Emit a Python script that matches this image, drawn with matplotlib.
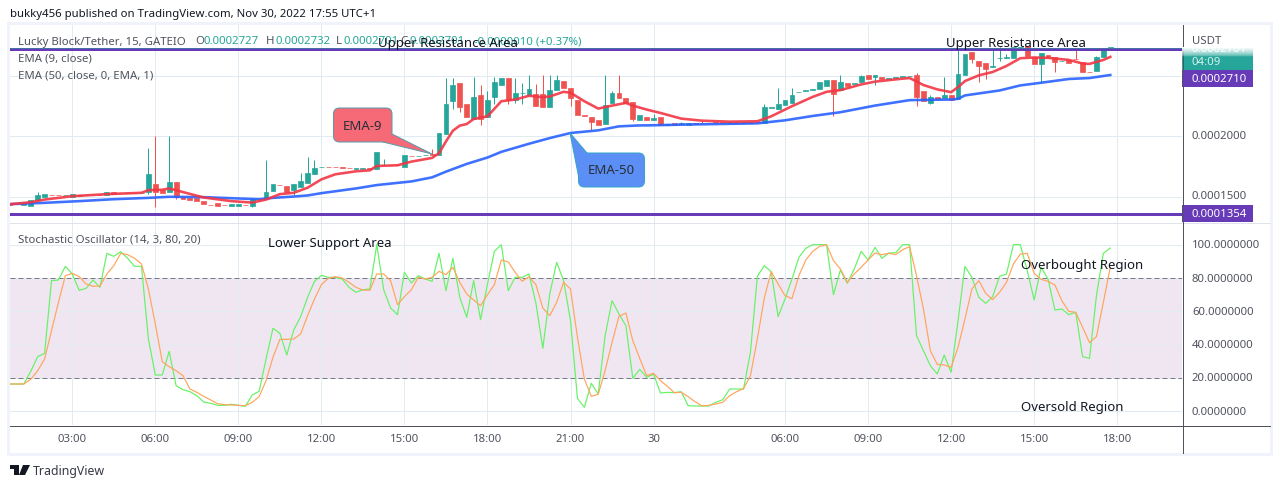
import numpy as np
import matplotlib
matplotlib.use("Agg")
import matplotlib.pyplot as plt
from matplotlib.patches import FancyBboxPatch, Polygon, Rectangle

# prices are in units of 1e-7 USDT, x is the bar number (15 min bars, session gap after "30")
opens = [1442, 1441, 1436, 1425, 1472, 1500, 1518, 1516, 1512, 1500,
         1513, 1512, 1512, 1518, 1514, 1536, 1535, 1535, 1535, 1531,
         1536, 1605, 1555, 1541, 1619, 1500, 1491, 1491, 1469, 1435,
         1447, 1432, 1427, 1427, 1432, 1427, 1479, 1486, 1550, 1599,
         1591, 1555, 1583, 1616, 1689, 1746, 1750, 1748, 1746, 1741,
         1731, 1731, 1735, 1733, 1759, 1763, 1763, 1750, 1841, 1837,
         1842, 1852, 1850, 2022, 2291, 2439, 2272, 2144, 2339, 2158,
         2327, 2425, 2486, 2305, 2359, 2344, 2347, 2347, 2241, 2380,
         2458, 2397, 2302, 2174, 2161, 2136, 2100, 2277, 2355, 2319,
         2286, 2133, 2164, 2139, 2164, 2098, 2114, 2103, 2097, 2110,
         2113, 2109, 2116, 2116, 2112, 2116, 2112, 2116, 2119, 2114,
         2239, 2227, 2261, 2280, 2364, 2379, 2387, 2389, 2416, 2464,
         2383, 2444, 2437, 2447, 2505, 2491, 2494, 2472, 2484, 2489,
         2498, 2505, 2372, 2277, 2322, 2314, 2339, 2311, 2505, 2697,
         2628, 2605, 2575, 2648, 2651, 2650, 2733, 2747, 2661, 2597,
         2672, 2653, 2620, 2636, 2641, 2619, 2535, 2539, 2655, 2734]
closes = [1436, 1437, 1442, 1472, 1514, 1522, 1514, 1512, 1516, 1519,
          1509, 1516, 1516, 1514, 1536, 1525, 1531, 1531, 1531, 1535,
          1689, 1536, 1533, 1619, 1500, 1483, 1475, 1461, 1439, 1431,
          1427, 1428, 1439, 1439, 1428, 1480, 1483, 1536, 1605, 1595,
          1536, 1605, 1627, 1694, 1739, 1750, 1746, 1744, 1742, 1737,
          1735, 1735, 1731, 1872, 1763, 1759, 1759, 1847, 1837, 1841,
          1846, 1848, 2030, 2272, 2425, 2244, 2158, 2327, 2144, 2305,
          2453, 2486, 2305, 2361, 2363, 2389, 2255, 2241, 2380, 2464,
          2397, 2314, 2180, 2170, 2122, 2097, 2261, 2355, 2314, 2277,
          2144, 2175, 2139, 2153, 2097, 2102, 2097, 2107, 2114, 2106,
          2109, 2113, 2112, 2112, 2116, 2112, 2116, 2112, 2115, 2244,
          2243, 2272, 2305, 2339, 2368, 2383, 2391, 2453, 2464, 2352,
          2447, 2416, 2441, 2497, 2475, 2505, 2472, 2486, 2488, 2503,
          2502, 2322, 2291, 2322, 2308, 2339, 2305, 2514, 2680, 2639,
          2583, 2561, 2586, 2652, 2655, 2739, 2737, 2666, 2600, 2689,
          2653, 2616, 2624, 2608, 2637, 2533, 2531, 2655, 2733, 2738]
wick_bars = [4, 20, 21, 23, 24, 35, 37, 41, 42, 43, 44, 54, 61, 63, 64, 65, 67, 68, 69, 70,
             72, 73, 74, 75, 76, 77, 78, 79, 81, 84, 86, 87, 88, 90, 93, 97, 100, 109, 111,
             113, 119, 120, 123, 125, 128, 131, 133, 135, 137, 139, 140, 141, 142, 143, 144,
             149, 151, 154, 157]
wick_highs = [1536, 1902, 2000, 2005, 1619, 1480, 1805, 1605, 1694, 1833, 1805, 1816, 1894, 2480, 2486, 2439, 2489, 2422, 2375, 2494,
              2486, 2486, 2444, 2505, 2430, 2505, 2505, 2505, 2397, 2161, 2505, 2375, 2505, 2286, 2189, 2122, 2130, 2272, 2397,
              2397, 2464, 2505, 2505, 2505, 2494, 2522, 2344, 2489, 2722, 2697, 2628, 2605, 2722, 2736, 2680,
              2689, 2653, 2716, 2664]
wick_lows = [1472, 1527, 1416, 1541, 1483, 1416, 1486, 1514, 1583, 1616, 1689, 1759, 1848, 2022, 2230, 2203, 2144, 2097, 2158, 2264,
             2264, 2277, 2269, 2344, 2255, 2241, 2241, 2380, 2255, 2055, 2100, 2277, 2314, 2125, 2139, 2103, 2109, 2114, 2227,
             2280, 2172, 2383, 2447, 2425, 2484, 2250, 2266, 2314, 2311, 2605, 2450, 2478, 2575, 2625, 2651,
             2444, 2536, 2637, 2539]

ema9_bars = [0, 3, 5, 9, 14, 19, 20, 22, 23, 25, 28, 32, 35, 37, 39, 41, 43, 45, 47, 50,
             52, 53, 56, 58, 61, 62, 63, 64, 65, 66, 67, 69, 71, 73, 75, 77, 78, 80, 81, 83,
             85, 87, 89, 90, 92, 94, 97, 100, 104, 108, 110, 113, 116, 118, 120, 123, 125, 129, 130, 132,
             134, 136, 137, 138, 140, 142, 144, 146, 148, 150, 153, 155, 156, 158, 159]
ema9 = [1439, 1455, 1477, 1505, 1522, 1533, 1555, 1558, 1569, 1539, 1494, 1464, 1452, 1477, 1522, 1533, 1575, 1644, 1686, 1711,
        1719, 1755, 1761, 1791, 1822, 1861, 1958, 2047, 2089, 2102, 2144, 2166, 2291, 2305, 2336, 2325, 2330, 2369, 2361, 2291,
        2230, 2255, 2277, 2255, 2222, 2194, 2147, 2130, 2122, 2125, 2166, 2250, 2327, 2369, 2383, 2430, 2453, 2478, 2483, 2425,
        2389, 2366, 2408, 2458, 2505, 2533, 2583, 2647, 2653, 2650, 2633, 2603, 2600, 2633, 2658]
ema50_bars = [0, 5, 10, 15, 20, 23, 28, 33, 36, 38, 41, 43, 45, 50, 53, 58, 61, 63, 66, 69,
              71, 75, 78, 81, 85, 88, 91, 92, 97, 108, 112, 116, 120, 125, 130, 136, 137, 138, 143, 146,
              149, 153, 156, 159]
ema50 = [1439, 1450, 1464, 1480, 1491, 1500, 1497, 1486, 1480, 1491, 1502, 1511, 1530, 1569, 1597, 1627, 1661, 1708, 1772, 1825,
         1872, 1939, 1986, 2028, 2050, 2083, 2091, 2091, 2097, 2108, 2133, 2169, 2200, 2255, 2300, 2305, 2311, 2339, 2380, 2422,
         2444, 2475, 2483, 2508]

stoch_k = [16.4, 16.4, 16.4, 24.0, 32.8, 34.8, 78.4, 78.8, 87.0, 82.4,
           72.6, 73.8, 78.8, 74.4, 94.8, 93.0, 95.8, 91.8, 87.0, 87.0,
           43.4, 21.8, 21.8, 36.0, 15.4, 13.0, 11.8, 9.4, 5.6, 4.8,
           3.6, 3.6, 4.2, 3.6, 3.0, 9.8, 12.0, 31.4, 49.8, 46.8,
           33.8, 48.8, 56.8, 68.4, 78.0, 81.6, 80.4, 80.4, 79.4, 74.4,
           71.4, 73.0, 73.4, 100.0, 73.0, 62.0, 58.0, 83.4, 77.0, 81.4,
           79.4, 78.0, 94.8, 72.4, 91.8, 68.4, 56.4, 78.4, 55.0, 76.4,
           96.0, 100.0, 72.4, 80.4, 80.4, 82.4, 64.8, 37.8, 70.4, 89.4,
           78.4, 54.4, 7.8, 2.4, 16.8, 10.4, 45.4, 66.4, 58.4, 51.4,
           19.8, 25.2, 20.4, 22.4, 11.0, 11.4, 11.2, 11.8, 3.4, 3.2,
           3.2, 3.2, 5.4, 7.0, 13.4, 13.4, 13.4, 35.4, 81.0, 87.4,
           83.8, 56.8, 67.4, 79.4, 92.4, 97.8, 100.0, 100.0, 100.0, 70.0,
           84.8, 76.8, 85.4, 96.0, 90.8, 98.4, 91.8, 95.0, 95.2, 100.0,
           100.0, 45.4, 36.4, 27.4, 22.4, 33.8, 23.4, 54.4, 87.0, 80.4,
           68.4, 64.8, 68.8, 81.0, 82.4, 100.0, 100.0, 84.4, 66.8, 86.4,
           79.4, 60.8, 61.4, 58.0, 59.4, 32.8, 31.8, 69.4, 94.8, 98.0]
stoch_d = [16.4, 16.4, 16.4, 19.2, 24.4, 31.4, 48.4, 65.4, 81.4, 82.8,
           80.8, 76.4, 75.0, 75.2, 82.4, 87.4, 94.8, 94.0, 91.8, 88.4,
           73.4, 52.4, 29.8, 26.8, 24.4, 21.4, 13.4, 11.4, 9.0, 6.8,
           4.6, 4.0, 3.8, 3.6, 3.4, 5.4, 8.8, 18.4, 32.4, 43.2,
           43.2, 43.4, 46.4, 57.4, 67.4, 76.0, 79.8, 80.8, 80.0, 77.4,
           74.4, 72.8, 72.6, 82.4, 82.4, 78.4, 64.0, 68.8, 73.0, 80.4,
           79.4, 80.4, 84.0, 82.0, 86.4, 77.4, 70.4, 66.8, 63.4, 70.0,
           76.0, 90.8, 89.6, 83.4, 78.0, 80.8, 76.0, 62.0, 57.4, 65.4,
           77.4, 73.4, 44.4, 19.4, 9.0, 10.2, 24.4, 41.4, 57.0, 59.0,
           42.4, 31.8, 21.4, 22.8, 18.4, 15.0, 11.2, 11.4, 8.8, 5.8,
           3.2, 3.6, 4.4, 5.4, 9.4, 11.8, 13.6, 21.4, 43.4, 68.0,
           83.8, 76.4, 69.4, 67.6, 81.4, 90.8, 96.0, 99.0, 100.0, 90.4,
           85.4, 77.4, 82.4, 86.4, 90.8, 95.0, 94.0, 94.8, 94.0, 97.0,
           98.8, 81.4, 61.4, 36.4, 28.2, 27.8, 26.4, 38.4, 55.4, 73.4,
           78.4, 70.8, 67.0, 71.4, 77.4, 88.4, 94.4, 94.8, 82.8, 79.2,
           78.0, 75.8, 66.4, 60.0, 59.4, 50.4, 41.2, 44.8, 65.4, 86.4]

time_ticks = [9, 21, 33, 45, 57, 69, 81, 93, 112, 124, 136, 148, 160]
time_labels = ["03:00", "06:00", "09:00", "12:00", "15:00", "18:00", "21:00", "30",
               "06:00", "09:00", "12:00", "15:00", "18:00"]
price_grid = [1500, 2000, 2500]
price_labels = ["0.0001500", "0.0002000"]
resistance = 2722
support = 1354
osc_ticks = [100, 80, 60, 40, 20, 0]
osc_labels = ["100.0000000", "80.0000000", "60.0000000", "40.0000000", "20.0000000", "0.0000000"]

FONT = "Noto Sans"
GREY = "#50535e"
INK = "#131722"
PURPLE = "#673ab7"
UP = "#26a69a"
DOWN = "#ef5350"
GRID = "#e1ecf2"
W, H = 1280, 489
PX = 0.72  # one pixel as a line width

plt.rcParams["font.family"] = FONT
fig = plt.figure(figsize=(W / 100, H / 100), dpi=100, facecolor="white")


def pane(x0, y0, x1, y1):
    return fig.add_axes([x0 / W, 1 - y1 / H, (x1 - x0) / W, (y1 - y0) / H])


# price pane
ax = pane(10, 26, 1182, 224)
ax.set_xlim(0, 1172 / 6.92)
ax.set_ylim(1283, 2922)
for t in time_ticks:
    ax.axvline(t, color=GRID, lw=PX, zorder=0)
for p in price_grid:
    ax.axhline(p, color=GRID, lw=PX, zorder=0)

bars = np.arange(len(opens))
colors = [UP if c >= o else DOWN for o, c in zip(opens, closes)]
wick_colors = [colors[b] for b in wick_bars]
ax.vlines(wick_bars, wick_lows, wick_highs, colors=wick_colors, lw=PX, zorder=2)
ax.bar(bars, np.array(closes) - np.array(opens), bottom=opens, width=0.7,
       color=colors, edgecolor=colors, lw=0.5, zorder=3)
ax.plot(ema50_bars, ema50, color="#2962ff", lw=2.6 * PX, alpha=0.9, zorder=4)
ax.plot(ema9_bars, ema9, color="#f23645", lw=2.6 * PX, alpha=0.9, zorder=5)
ax.axhline(resistance, color=PURPLE, lw=3 * PX, zorder=6)
ax.axhline(resistance + 13, color=UP, lw=PX, ls=(0, (1, 1)), zorder=7)
ax.axhline(support, color=PURPLE, lw=3 * PX, zorder=6)

# stochastic pane
ax2 = pane(10, 225, 1182, 426)
ax2.set_xlim(0, 1172 / 6.92)
ax2.set_ylim(-8.2, 112.4)
ax2.axhspan(20, 80, color="#f0e6f2", lw=0, zorder=0)
for t in time_ticks:
    ax2.axvline(t, color=GRID, lw=PX, zorder=1)
for v in osc_ticks:
    ax2.axhline(v, color=GRID, lw=PX, zorder=1)
ax2.axhline(80, color="#787b86", lw=PX, ls=(0, (5, 3)), zorder=2)
ax2.axhline(20, color="#787b86", lw=PX, ls=(0, (5, 3)), zorder=2)
ax2.plot(bars, stoch_k, color="#66f266", lw=1.2 * PX, zorder=3)
ax2.plot(bars, stoch_d, color="#ffa55c", lw=1.2 * PX, zorder=4)

for a in (ax, ax2):
    a.set_xticks([])
    a.set_yticks([])
    for s in a.spines.values():
        s.set_visible(False)

# frame, labels and notes drawn in pixel space on top
top = fig.add_axes([0, 0, 1, 1], zorder=10)
top.patch.set_alpha(0)
top.axis("off")
top.set_xlim(0, W)
top.set_ylim(H, 0)


def txt(x, y, s, size=8.2, color=GREY, **kw):
    return top.text(x, y, s, fontsize=size, color=color, va="center", **kw)


for r in [(8, 23, 1265, 3), (8, 454, 1265, 3), (7, 23, 3, 434), (1270, 23, 3, 434)]:
    top.add_patch(Rectangle((r[0], r[1]), r[2], r[3], color="#f0f3fa", lw=0))
top.plot([10, 1270], [224, 224], color="#e0e3eb", lw=PX)
top.plot([10, 1270], [426.5, 426.5], color=GREY, lw=PX)
top.plot([1182.5, 1182.5], [26, 454], color=GREY, lw=PX)

txt(10, 15, "bukky456 published on TradingView.com, Nov 30, 2022 17:55 UTC+1", color=INK)

# legend row, values packed left to right like the pane header
legend_row = [(18, "Lucky Block/Tether, 15, GATEIO", GREY), (195, "O", GREY), (204, "0.0002727", UP),
              (266, "H", GREY), (275, "0.0002732", UP), (336, "L", GREY), (343, "0.0002701", UP),
              (400, "C", GREY), (409, "0.0002701", UP), (474, "-0.0000010 (+0.37%)", UP)]
for x, s, c in legend_row:
    txt(x, 42, s, color=c)
txt(18, 59, "EMA (9, close)")
txt(18, 76, "EMA (50, close, 0, EMA, 1)")
txt(18, 240, "Stochastic Oscillator (14, 3, 80, 20)")

for x, y, s in [(378, 44, "Upper Resistance Area"), (946, 43, "Upper Resistance Area"),
                (268, 244, "Lower Support Area"), (1021, 266, "Overbought Region"),
                (1021, 407, "Oversold Region")]:
    txt(x, y, s, size=9.5, color=INK)

# callouts
for box, tail, fill, edge, label in [
    ((333.5, 109, 58.5, 34), [(392, 135), (432, 155), (383, 143)], "#f66a78", "#5b9aa8", "EMA-9"),
    ((578.5, 154, 66, 34), [(587, 154), (570, 134), (578.5, 177)], "#5b8ff5", "#35a5c8", "EMA-50"),
]:
    top.add_patch(FancyBboxPatch((box[0] + 5, box[1] + 5), box[2] - 10, box[3] - 10,
                                 boxstyle="round,pad=5,rounding_size=6", fc=fill, ec=edge, lw=PX))
    top.add_patch(Polygon(tail, closed=True, fc=fill, ec="none"))
    top.plot([tail[0][0], tail[1][0], tail[2][0]], [tail[0][1], tail[1][1], tail[2][1]], color=edge, lw=PX)
    txt(box[0] + box[2] / 2, box[1] + box[3] / 2, label, size=9.5, color="#2a2e39", ha="center")

# time labels
for t, s in zip(time_ticks, time_labels):
    txt(10 + t * 6.92, 439, s, ha="center")

# price axis
txt(1192, 41, "USDT")
for p, s in zip(price_grid, price_labels):
    txt(1192, 136.7 + (2000 - p) * 0.12, s)
for v, s in zip(osc_ticks, osc_labels):
    txt(1192, 412.3 - v * 1.666, s)

top.add_patch(Rectangle((1182, 49), 71, 22, color=UP, lw=0))
txt(1192, 50, "0.0002701", color="white")
fade = np.ones((16, 1, 4))
fade[:, 0, 3] = np.linspace(1, 0, 16) ** 0.6
top.imshow(fade, extent=(1182, 1253, 58, 48), aspect="auto", zorder=5, interpolation="bilinear")
txt(1192, 62.5, "04:09", color="#d6f0ec", zorder=6)
top.add_patch(Rectangle((1182, 71), 71, 17, color=PURPLE, lw=0))
txt(1192, 79.5, "0.0002710", color="white", fontweight="bold")
top.add_patch(Rectangle((1182, 206), 71, 17, color=PURPLE, lw=0))
txt(1192, 214.5, "0.0001354", color="white", fontweight="bold")

# logo and wordmark
top.add_patch(Polygon([(10, 466), (19, 466), (19, 476), (14, 476), (14, 470), (10, 470)], closed=True, fc=INK, ec="none"))
top.add_patch(Polygon([(23, 466), (30, 466), (25, 476), (19, 476)], closed=True, fc=INK, ec="none"))
txt(33, 471, "TradingView", size=8.9, color="#363a45")

top.set_xlim(0, W)
top.set_ylim(H, 0)

fig.savefig("out.png", dpi=100, facecolor="white")
